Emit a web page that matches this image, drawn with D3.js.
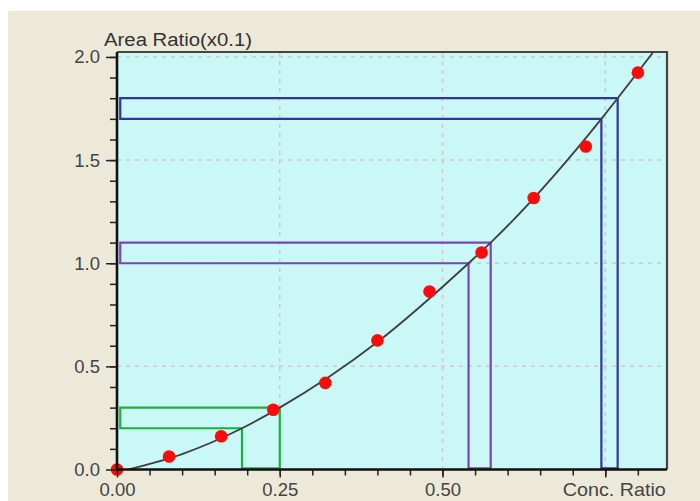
<!DOCTYPE html>
<html lang="en">
<head>
<meta charset="utf-8">
<title>Calibration curve</title>
<script src="https://d3js.org/d3.v7.min.js"></script>
<style>
  body { margin: 0; background: #ffffff; }
  svg { display: block; font-family: "Liberation Sans", Arial, sans-serif; }
</style>
</head>
<body>
<script>
// measured points: conc. ratio vs area ratio (x0.1)
const concRatio = [0, 0.08, 0.16, 0.24, 0.32, 0.40, 0.48, 0.56, 0.64, 0.72, 0.80];
const areaRatio = [0.0, 0.063, 0.161, 0.29, 0.42, 0.626, 0.863, 1.052, 1.316, 1.566, 1.924];

// calibration curve
const curveConc = [0.017, 0.10, 0.192, 0.25, 0.40, 0.54, 0.574, 0.744, 0.769, 0.83];
const curveArea = [0.0, 0.075, 0.2, 0.3, 0.618, 1.0, 1.1, 1.7, 1.8, 2.05];

// area bands and the conc. range they map to
const bandLow   = [0.2, 1.0, 1.7];
const bandHigh  = [0.3, 1.1, 1.8];
const concLow   = [0.192, 0.54, 0.744];
const concHigh  = [0.25, 0.574, 0.769];
const bandColor = ["#1fae3c", "#7a44b8", "#32349e"];

const xTicks = [0, 0.25, 0.5, 0.75];
const xTickLabels = ["0.00", "0.25", "0.50", "Conc. Ratio"];
const yTicks = [0, 0.5, 1.0, 1.5, 2.0];
const yTickLabels = ["0.0", "0.5", "1.0", "1.5", "2.0"];

const W = 700, H = 501;
const margin = {top: 52, right: 33, bottom: 31.5, left: 117};
const width = W - margin.left - margin.right,
      height = H - margin.top - margin.bottom;

const svg = d3.select("body").append("svg")
    .attr("width", W).attr("height", H);

// beige panel
svg.append("rect").attr("x", 8).attr("y", 11)
    .attr("width", W - 8).attr("height", H - 11)
    .attr("fill", "#ece9d9");

const g = svg.append("g")
    .attr("transform", "translate(" + margin.left + "," + margin.top + ")");

const x = d3.scaleLinear().domain([0, 0.8448]).range([0, width]);
const y = d3.scaleLinear().domain([0, 2.024]).range([height, 0]);

g.append("rect").attr("width", width).attr("height", height).attr("fill", "#c9f8f7");

g.append("clipPath").attr("id", "plotclip")
  .append("rect").attr("width", width).attr("height", height);

// dashed grid
g.append("g").selectAll("line").data(xTicks.slice(1)).enter().append("line")
    .attr("x1", d => x(d)).attr("x2", d => x(d))
    .attr("y1", 0).attr("y2", height)
    .attr("stroke", "#d4c6c6").attr("stroke-width", 1.5).attr("stroke-dasharray", "4,5");
g.append("g").selectAll("line").data(yTicks.slice(1)).enter().append("line")
    .attr("x1", 0).attr("x2", width)
    .attr("y1", d => y(d)).attr("y2", d => y(d))
    .attr("stroke", "#d4c6c6").attr("stroke-width", 1.5).attr("stroke-dasharray", "4,5");

const plot = g.append("g").attr("clip-path", "url(#plotclip)");

// band outlines (L shapes)
const leftEdge = 0.005, floor = 0.006;
bandLow.forEach(function(lo, i) {
  const pts = [
    [x(leftEdge), y(bandHigh[i])], [x(concHigh[i]), y(bandHigh[i])],
    [x(concHigh[i]), y(floor)], [x(concLow[i]), y(floor)],
    [x(concLow[i]), y(lo)], [x(leftEdge), y(lo)]
  ];
  plot.append("path")
      .attr("d", "M" + pts.join("L") + "Z")
      .attr("fill", "none")
      .attr("stroke", bandColor[i])
      .attr("stroke-width", 2.2);
});

// fitted curve
const line = d3.line()
    .x(d => x(d[0])).y(d => y(d[1]))
    .curve(d3.curveMonotoneX);
plot.append("path")
    .datum(curveConc.map((c, i) => [c, curveArea[i]]))
    .attr("d", line)
    .attr("fill", "none")
    .attr("stroke", "#3f3f3f")
    .attr("stroke-width", 1.8);

// points
g.append("g").selectAll("circle")
    .data(concRatio.map((c, i) => [c, areaRatio[i]]))
    .enter().append("circle")
    .attr("cx", d => x(d[0])).attr("cy", d => y(d[1]))
    .attr("r", 6.3)
    .attr("fill", "#ff0a0a");

// frame top/right
g.append("path")
    .attr("d", "M0,0H" + width + "V" + height)
    .attr("fill", "none").attr("stroke", "#444").attr("stroke-width", 2.2);

// axes
const xMinor = g.append("g").attr("transform", "translate(0," + height + ")")
    .call(d3.axisBottom(x).tickValues(d3.range(0.05, 0.84, 0.05)).tickSize(6).tickFormat(""));
const yMinor = g.append("g")
    .call(d3.axisLeft(y).tickValues(d3.range(0.1, 2.01, 0.1)).tickSize(7).tickFormat(""));

const xAxis = g.append("g").attr("transform", "translate(0," + height + ")")
    .call(d3.axisBottom(x).tickValues(xTicks).tickSize(8)
        .tickFormat((d, i) => xTickLabels[i]));
const yAxis = g.append("g")
    .call(d3.axisLeft(y).tickValues(yTicks).tickSize(11).tickPadding(6)
        .tickFormat((d, i) => yTickLabels[i]));

[xMinor, yMinor, xAxis, yAxis].forEach(a => {
  a.select(".domain").remove();
  a.selectAll(".tick line").attr("stroke", "#222").attr("stroke-width", 1.5);
});

xAxis.selectAll("text").attr("y", 13).attr("font-size", 18.5).attr("fill", "#444");
xAxis.selectAll("text").filter((d, i) => i === 3)
    .attr("x", 8.5).attr("textLength", 103).attr("lengthAdjust", "spacingAndGlyphs");
yAxis.selectAll("text").attr("font-size", 18.5).attr("fill", "#444");

// thick axis lines
g.append("path")
    .attr("d", "M0,0V" + height + "H" + width)
    .attr("fill", "none").attr("stroke", "#111").attr("stroke-width", 2.6);

// y title
svg.append("text")
    .attr("x", 104).attr("y", 46)
    .attr("font-size", 18).attr("fill", "#333")
    .attr("textLength", 148).attr("lengthAdjust", "spacingAndGlyphs")
    .text("Area Ratio(x0.1)");
</script>
</body>
</html>
